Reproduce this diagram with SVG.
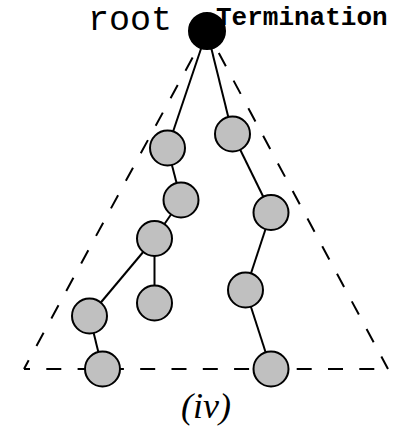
<svg xmlns="http://www.w3.org/2000/svg" width="394" height="428" viewBox="0 0 394 428">
<style>
.dash{fill:none;stroke:#000;stroke-width:2;stroke-dasharray:15 16.3}
.edge{stroke:#000;stroke-width:2}
.node circle{fill:#c0c0c0;stroke:#000;stroke-width:2}
#root circle{fill:#000;stroke:#000;stroke-width:2}
.mono{font-family:"Liberation Mono","Courier New",monospace}
</style>
<rect width="394" height="428" fill="#fff"/>
<g id="region">
<line class="dash" x1="207" y1="31" x2="24" y2="369" stroke-dashoffset="1.1"/>
<line class="dash" x1="24" y1="369" x2="388" y2="369" stroke-dashoffset="9"/>
<line class="dash" x1="207" y1="31" x2="388" y2="369" stroke-dashoffset="6.3"/>
</g>
<g id="connectors">
<line class="edge" x1="207" y1="31" x2="167.5" y2="148"/>
<line class="edge" x1="207" y1="31" x2="232.5" y2="134"/>
<line class="edge" x1="167.5" y1="148" x2="181" y2="200"/>
<line class="edge" x1="181" y1="200" x2="154.5" y2="238.5"/>
<line class="edge" x1="154.5" y1="238.5" x2="89.5" y2="316"/>
<line class="edge" x1="154.5" y1="238.5" x2="154.5" y2="303"/>
<line class="edge" x1="89.5" y1="316" x2="102.5" y2="369"/>
<line class="edge" x1="232.5" y1="134" x2="271" y2="212.5"/>
<line class="edge" x1="271" y1="212.5" x2="245.5" y2="290"/>
<line class="edge" x1="245.5" y1="290" x2="271" y2="369"/>
</g>
<g id="root"><circle cx="207" cy="31" r="18"/></g>
<g id="n1" class="node"><circle cx="167.5" cy="148" r="17.5"/></g>
<g id="n2" class="node"><circle cx="232.5" cy="134" r="17.5"/></g>
<g id="n3" class="node"><circle cx="181" cy="200" r="17.5"/></g>
<g id="n4" class="node"><circle cx="154.5" cy="238.5" r="17.5"/></g>
<g id="n5" class="node"><circle cx="271" cy="212.5" r="17.5"/></g>
<g id="n6" class="node"><circle cx="245.5" cy="290" r="17.5"/></g>
<g id="n7" class="node"><circle cx="154.5" cy="303" r="17.5"/></g>
<g id="n8" class="node"><circle cx="89.5" cy="316" r="17.5"/></g>
<g id="n9" class="node"><circle cx="102.5" cy="369" r="17.5"/></g>
<g id="n10" class="node"><circle cx="271" cy="369" r="17.5"/></g>
<g id="labels">
<text class="mono" x="88" y="30" font-size="35">root</text>
<text class="mono" x="216" y="25" font-size="26" font-weight="bold">Termination</text>
<text x="206" y="418" font-size="36" font-style="italic" text-anchor="middle" font-family="'Liberation Serif','Times New Roman',serif">(iv)</text>
</g>
</svg>
